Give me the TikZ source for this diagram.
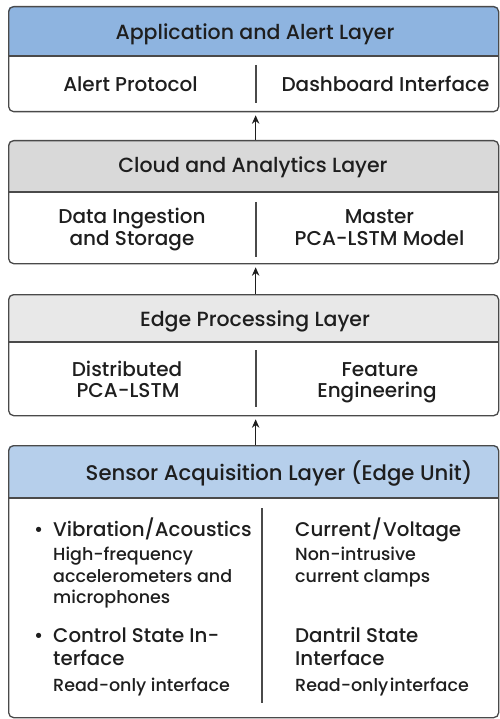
\documentclass[tikz,border=0pt]{standalone}
\usepackage{fontspec}
\setmainfont{Poppins Medium}
\usetikzlibrary{arrows.meta,backgrounds}
\definecolor{bdr}{HTML}{4A4A4A}
\definecolor{txt}{HTML}{1E1E1E}
\definecolor{hdrA}{HTML}{8EB4E0}
\definecolor{hdrB}{HTML}{D9D9D9}
\definecolor{hdrC}{HTML}{E8E8E8}
\definecolor{hdrD}{HTML}{B6CFEB}
\begin{document}
\begin{tikzpicture}[x=1pt,y=-1pt,
  layer/.style={draw=bdr, line width=1.3pt, rounded corners=5pt, minimum width=490pt, inner sep=0pt, anchor=north west},
  title/.style={text=txt, font=\fontsize{20.5}{24}\selectfont, inner sep=0pt, anchor=base},
  item/.style={text=txt, font=\fontsize{20}{24}\selectfont, inner sep=0pt, anchor=base},
  head/.style={text=txt, font=\fontsize{19.8}{24}\selectfont, inner sep=0pt, anchor=base west},
  desc/.style={text=txt, font=\fontsize{17.5}{21}\selectfont, inner sep=0pt, anchor=base west},
  divider/.style={draw=bdr, line width=1.2pt},
  sep/.style={draw=bdr, line width=1.3pt},
  arr/.style={draw=txt, line width=1.2pt, -{Stealth[length=8.5pt,width=7.5pt]}, shorten >=3pt}
]
\useasboundingbox (0,0) rectangle (499,719);

% layer boxes
\node[layer, minimum height=105pt] (L1) at (8,6) {};
\node[layer, minimum height=123pt] (L2) at (8,140) {};
\node[layer, minimum height=121pt] (L3) at (8,294) {};
\node[layer, minimum height=272pt] (L4) at (8,445) {};

% header fills
\begin{scope}[on background layer]
  \begin{scope}
    \clip[rounded corners=5pt] (L1.north west) rectangle (L1.south east);
    \fill[hdrA] (L1.north west) rectangle (498,56);
  \end{scope}
  \begin{scope}
    \clip[rounded corners=5pt] (L2.north west) rectangle (L2.south east);
    \fill[hdrB] (L2.north west) rectangle (498,192);
  \end{scope}
  \begin{scope}
    \clip[rounded corners=5pt] (L3.north west) rectangle (L3.south east);
    \fill[hdrC] (L3.north west) rectangle (498,342);
  \end{scope}
  \begin{scope}
    \clip[rounded corners=5pt] (L4.north west) rectangle (L4.south east);
    \fill[hdrD] (L4.north west) rectangle (498,498);
  \end{scope}
\end{scope}
\draw[sep] (8,56) -- (498,56);
\draw[sep] (8,192) -- (498,192);
\draw[sep] (8,342) -- (498,342);
\draw[sep] (8,498) -- (498,498);

% dividers
\draw[divider] (256,65) -- (256,103);
\draw[divider] (256,202) -- (256,257);
\draw[divider] (256,350) -- (256,407);
\draw[divider] (262,508) -- (262,703);

% layer 1
\node[title] (t1) at (255,40) {Application and Alert Layer};
\node[item] (a1) at (130.5,92) {Alert Protocol};
\node[item] (a2) at (385.5,92) {Dashboard Interface};

% layer 2
\node[title] (t2) at (253,173) {Cloud and Analytics Layer};
\node[item] (b1a) at (132,223) {Data Ingestion};
\node[item] (b1b) at (132,245) {and Storage};
\node[item] (b2a) at (379.5,223) {Master};
\node[item] (b2b) at (379.5,245) {PCA-LSTM Model};

% layer 3
\node[title] (t3) at (255,326) {Edge Processing Layer};
\node[item] (c1a) at (127,376) {Distributed};
\node[item] (c1b) at (128,397) {PCA-LSTM};
\node[item] (c2a) at (380,376) {Feature};
\node[item] (c2b) at (377,397) {Engineering};

% layer 4
\node[title, font=\fontsize{21.2}{24}\selectfont] (t4) at (279,480) {Sensor Acquisition Layer (Edge Unit)};
\node[head] (bl1) at (34,536) {•};
\node[head] (d1) at (53,536) {Vibration/Acoustics};
\node[desc] (d1a) at (53,560) {High-frequency};
\node[desc] (d1b) at (53,582) {accelerometers and};
\node[desc] (d1c) at (53,603) {microphones};
\node[head] (bl2) at (34,642) {•};
\node[head] (d2a) at (53,642) {Control State In-};
\node[head] (d2b) at (53,665) {terface};
\node[desc] (d2c) at (53,691) {Read-only interface};

\node[head] (e1) at (295,536) {Current\kern1pt/\kern1pt Voltage};
\node[desc] (e1a) at (295,560) {Non-intrusive};
\node[desc] (e1b) at (295,582) {current clamps};
\node[head] (e2a) at (295,642) {Dantril State};
\node[head] (e2b) at (295,665) {Interface};
\node[desc] (e2c) at (295,691) {Read-only\hspace{1.5pt}interface};

% arrows
\draw[arr] ([xshift=2pt]L2.north) -- ([xshift=2pt]L1.south);
\draw[arr] ([xshift=2pt]L3.north) -- ([xshift=2pt]L2.south);
\draw[arr] ([xshift=2pt]L4.north) -- ([xshift=2pt]L3.south);
\end{tikzpicture}
\end{document}
